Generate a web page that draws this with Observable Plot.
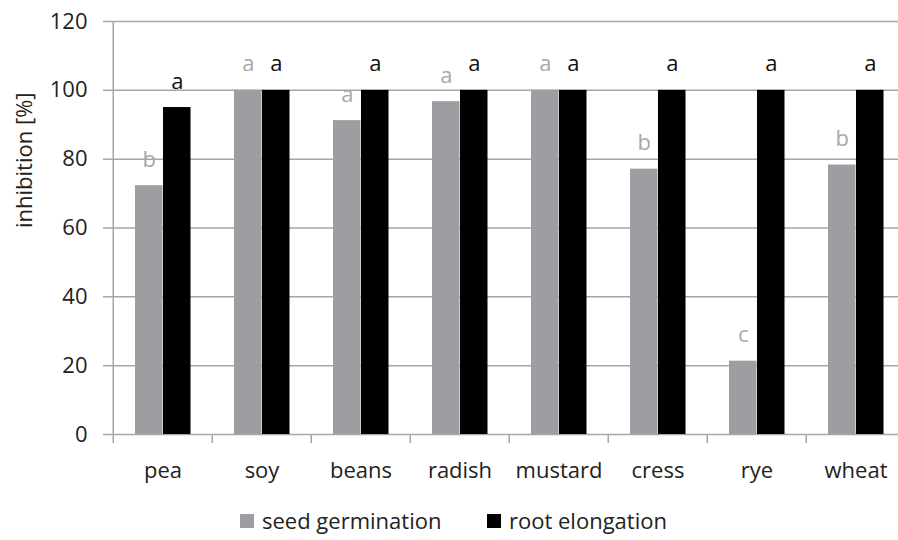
<!DOCTYPE html>
<html><head><meta charset="utf-8">
<script src="https://cdn.jsdelivr.net/npm/d3@7"></script>
<script src="https://cdn.jsdelivr.net/npm/@observablehq/plot@0.6"></script>
<style>
html,body{margin:0;padding:0;background:#fff;overflow:hidden;width:898px;height:540px}
#chart svg{display:block;overflow:hidden}
.legend{position:relative;height:40px;font-family:"Open Sans",sans-serif;font-size:22px;color:#222;display:flex;align-items:center;padding-left:240px;box-sizing:border-box}
.item{display:flex;align-items:center}
.sw{width:14px;height:14px;margin-right:8px;margin-top:2px}
</style></head><body><div id="chart"></div><div class="legend" id="legend"></div><script>
const categories = ["pea","soy","beans","radish","mustard","cress","rye","wheat"];
const seedGermination = [72.3, 100, 91.2, 96.7, 100, 77.1, 21.3, 78.3];
const rootElongation = [95, 100, 100, 100, 100, 100, 100, 100];
const seedLetters = ["b","a","a","a","a","b","c","b"];
const rootLetters = ["a","a","a","a","a","a","a","a"];
const yTicks = [0, 20, 40, 60, 80, 100, 120];
const seriesNames = ["seed germination", "root elongation"];
const seriesColors = ["#9c9ea1", "#000000"];
const letterColors = ["#a8a8a8", "#111111"];
const yLabel = "inhibition [%]";

const W = 898, H = 500, mL = 111, mR = -9, mT = 21, mB = 66;
const bw = (W - mR - mL) / categories.length;
const grid = "#a6a6a6";

const data = categories.map((c, i) => ({category: c, seed: seedGermination[i], root: rootElongation[i], seedL: seedLetters[i], rootL: rootLetters[i]}));

const plot = Plot.plot({
  width: W, height: H, marginLeft: mL, marginRight: mR, marginTop: mT, marginBottom: mB,
  style: {fontFamily: "Open Sans, sans-serif", fontSize: "22px", color: "#222", background: "#fff"},
  x: {domain: categories, padding: 0},
  y: {domain: [0, 120]},
  marks: [
    Plot.ruleY(yTicks, {stroke: grid, strokeWidth: 1.5}),
    Plot.ruleX([categories[0]], {x: d => d, y1: 0, y2: 120, dx: -bw / 2, stroke: grid, strokeWidth: 1.5}),
    Plot.ruleX(categories, {x: d => d, y1: 0, y2: 0, insetBottom: -9, dx: -bw / 2, stroke: grid, strokeWidth: 1.5}),
    Plot.axisY({ticks: yTicks, tickSize: 8, tickPadding: 16, stroke: grid, strokeWidth: 1.5, fill: "#222", fontSize: 22, label: null}),
    Plot.axisX({tickSize: 0, tickPadding: 28, fill: "#222", fontSize: 22, label: null}),
    Plot.barY(data, {x: "category", y: "seed", fill: seriesColors[0], insetLeft: 22, insetRight: bw - 50}),
    Plot.barY(data, {x: "category", y: "root", fill: seriesColors[1], insetLeft: 50, insetRight: bw - 78}),
    Plot.text(data, {x: "category", y: "seed", text: "seedL", dx: 36 - bw / 2, dy: -26, fill: letterColors[0], fontSize: 22}),
    Plot.text(data, {x: "category", y: "root", text: "rootL", dx: 64 - bw / 2, dy: -26, fill: letterColors[1], fontSize: 22}),
    Plot.text([yLabel], {frameAnchor: "left", rotate: -90, dx: -87, dy: 0, fill: "#222", fontSize: 22})
  ]
});
document.getElementById("chart").appendChild(plot);

const legend = document.getElementById("legend");
seriesNames.forEach((name, i) => {
  const item = document.createElement("div");
  item.className = "item";
  if (i === 0) item.style.width = "247px";
  const sw = document.createElement("span");
  sw.className = "sw";
  sw.style.background = seriesColors[i];
  const t = document.createElement("span");
  t.textContent = name;
  item.appendChild(sw);
  item.appendChild(t);
  legend.appendChild(item);
});
</script></body></html>
